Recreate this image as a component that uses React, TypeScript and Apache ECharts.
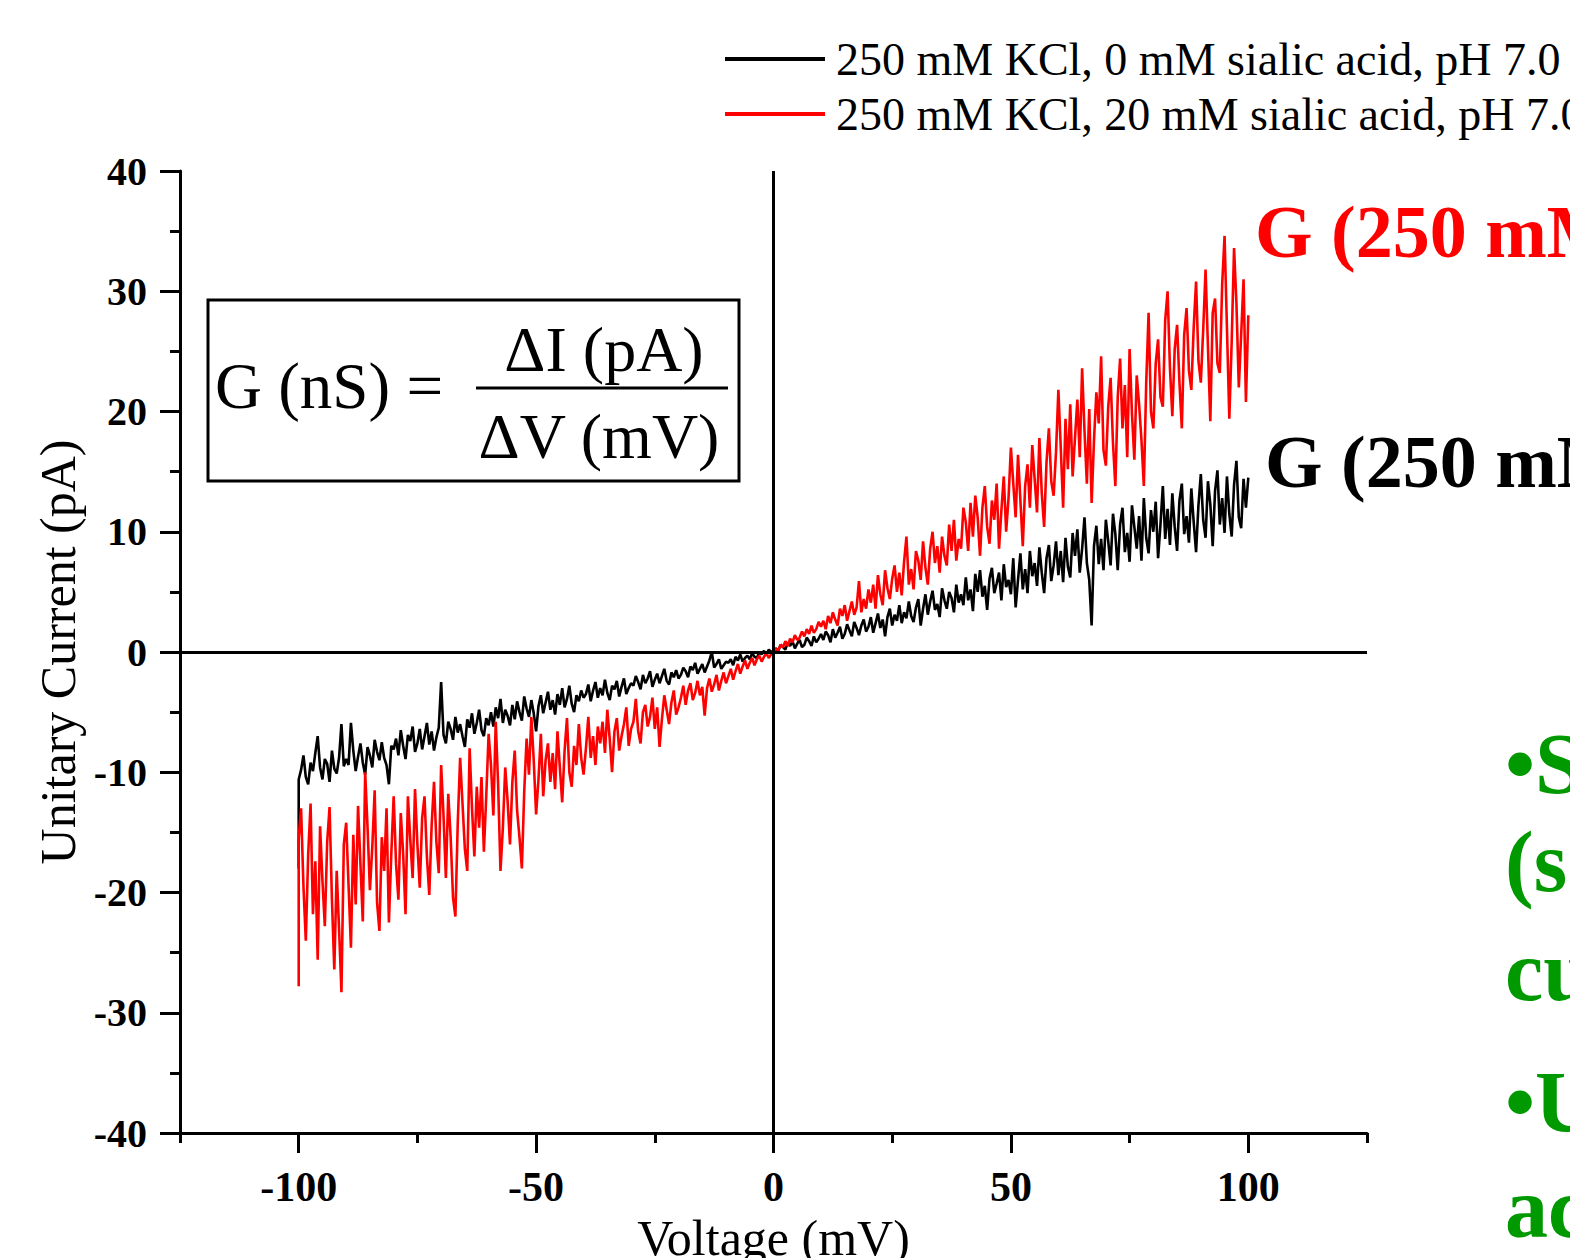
import React, { useEffect, useRef } from "react";
import * as echarts from "echarts";

const FONT = "'Liberation Serif', 'Times New Roman', serif";

const seriesNames = [
  "250 mM KCl, 0 mM sialic acid, pH 7.0",
  "250 mM KCl, 20 mM sialic acid, pH 7.0",
];

const xMajorTicks = [-100, -50, 0, 50, 100];
const xMinorTicks = [-125, -75, -25, 25, 75, 125];

const voltage = [
  -100, -100,
  -99.5, -99, -98.5, -98, -97.5, -97, -96.5, -96, -95.5, -95, -94.5, -94, -93.5, -93, -92.5, -92, -91.5, -91, -90.5, -90,
  -89.5, -89, -88.5, -88, -87.5, -87, -86.5, -86, -85.5, -85, -84.5, -84, -83.5, -83, -82.5, -82, -81.5, -81, -80.5, -80,
  -79.5, -79, -78.5, -78, -77.5, -77, -76.5, -76, -75.5, -75, -74.5, -74, -73.5, -73, -72.5, -72, -71.5, -71, -70.5, -70,
  -69.5, -69, -68.5, -68, -67.5, -67, -66.5, -66, -65.5, -65, -64.5, -64, -63.5, -63, -62.5, -62, -61.5, -61, -60.5, -60,
  -59.5, -59, -58.5, -58, -57.5, -57, -56.5, -56, -55.5, -55, -54.5, -54, -53.5, -53, -52.5, -52, -51.5, -51, -50.5, -50,
  -49.5, -49, -48.5, -48, -47.5, -47, -46.5, -46, -45.5, -45, -44.5, -44, -43.5, -43, -42.5, -42, -41.5, -41, -40.5, -40,
  -39.5, -39, -38.5, -38, -37.5, -37, -36.5, -36, -35.5, -35, -34.5, -34, -33.5, -33, -32.5, -32, -31.5, -31, -30.5, -30,
  -29.5, -29, -28.5, -28, -27.5, -27, -26.5, -26, -25.5, -25, -24.5, -24, -23.5, -23, -22.5, -22, -21.5, -21, -20.5, -20,
  -19.5, -19, -18.5, -18, -17.5, -17, -16.5, -16, -15.5, -15, -14.5, -14, -13.5, -13, -12.5, -12, -11.5, -11, -10.5, -10,
  -9.5, -9, -8.5, -8, -7.5, -7, -6.5, -6, -5.5, -5, -4.5, -4, -3.5, -3, -2.5, -2, -1.5, -1, -0.5, 0,
  0.5, 1, 1.5, 2, 2.5, 3, 3.5, 4, 4.5, 5, 5.5, 6, 6.5, 7, 7.5, 8, 8.5, 9, 9.5, 10,
  10.5, 11, 11.5, 12, 12.5, 13, 13.5, 14, 14.5, 15, 15.5, 16, 16.5, 17, 17.5, 18, 18.5, 19, 19.5, 20,
  20.5, 21, 21.5, 22, 22.5, 23, 23.5, 24, 24.5, 25, 25.5, 26, 26.5, 27, 27.5, 28, 28.5, 29, 29.5, 30,
  30.5, 31, 31.5, 32, 32.5, 33, 33.5, 34, 34.5, 35, 35.5, 36, 36.5, 37, 37.5, 38, 38.5, 39, 39.5, 40,
  40.5, 41, 41.5, 42, 42.5, 43, 43.5, 44, 44.5, 45, 45.5, 46, 46.5, 47, 47.5, 48, 48.5, 49, 49.5, 50,
  50.5, 51, 51.5, 52, 52.5, 53, 53.5, 54, 54.5, 55, 55.5, 56, 56.5, 57, 57.5, 58, 58.5, 59, 59.5, 60,
  60.5, 61, 61.5, 62, 62.5, 63, 63.5, 64, 64.5, 65, 65.5, 66, 66.5, 67, 67.5, 68, 68.5, 69, 69.5, 70,
  70.5, 71, 71.5, 72, 72.5, 73, 73.5, 74, 74.5, 75, 75.5, 76, 76.5, 77, 77.5, 78, 78.5, 79, 79.5, 80,
  80.5, 81, 81.5, 82, 82.5, 83, 83.5, 84, 84.5, 85, 85.5, 86, 86.5, 87, 87.5, 88, 88.5, 89, 89.5, 90,
  90.5, 91, 91.5, 92, 92.5, 93, 93.5, 94, 94.5, 95, 95.5, 96, 96.5, 97, 97.5, 98, 98.5, 99, 99.5, 100,
];

const currentNoSialic = [
  -18.0, -10.6,
  -9.8, -8.6, -10.4, -11.0, -9.2, -9.9, -8.4, -7.0, -9.6, -10.6, -8.9, -9.3, -10.8, -8.2, -9.7, -10.1, -8.8, -6.0, -9.5, -8.9,
  -9.4, -5.9, -8.2, -9.9, -8.7, -7.6, -9.2, -10.2, -7.9, -8.6, -9.6, -7.3, -8.3, -9.0, -7.5, -8.8, -9.4, -11.0, -7.8, -8.1,
  -7.2, -8.6, -6.5, -7.8, -8.9, -6.9, -7.4, -6.2, -8.3, -7.6, -6.4, -8.1, -7.0, -5.9, -7.7, -6.6, -8.2, -7.1, -6.3, -2.5,
  -6.9, -7.6, -5.8, -6.4, -7.3, -5.4, -6.7, -6.0, -7.0, -7.9, -5.6, -6.3, -5.1, -6.8, -5.9, -4.8, -6.5, -7.0, -5.5, -6.1,
  -5.0, -6.2, -4.6, -5.5, -3.9, -5.9, -4.8, -5.3, -6.1, -4.4, -5.6, -4.1, -5.0, -5.7, -3.7, -4.7, -5.4, -4.0, -5.1, -6.6,
  -4.5, -3.6, -5.1, -4.2, -3.3, -4.8, -4.0, -5.2, -3.5, -4.4, -3.0, -4.6, -3.9, -2.8, -4.3, -5.0, -3.6, -4.1, -3.2, -3.8,
  -3.5, -2.7, -4.1, -3.2, -2.5, -3.8, -3.0, -3.6, -2.3, -3.4, -4.0, -2.8, -3.1, -2.4, -3.7, -2.9, -2.2, -3.5, -3.0, -2.6,
  -2.8, -2.0, -2.5, -3.1, -1.9, -2.6, -2.2, -1.6, -2.9, -2.3, -1.8, -2.6, -2.0, -1.4, -2.4, -2.7, -1.7, -2.1, -1.5, -2.2,
  -1.9, -1.3, -1.6, -2.1, -1.2, -1.5, -0.9, -1.8, -1.4, -1.0, -1.7, -1.2, -0.7, 0.0, -1.3, -1.0, -0.6, -1.4, -1.1, -0.8,
  -0.9, -0.6, -1.1, -0.4, -0.7, -0.2, -0.8, -0.5, -0.3, -0.6, -0.1, -0.4, -0.5, 0.0, -0.2, 0.1, -0.3, 0.2, 0.0, 0.1,
  0.3, 0.1, 0.6, 0.4, 0.2, 0.8, 0.5, 0.9, 0.3, 0.7, 1.0, 0.4, 0.6, 1.2, 0.9, 0.5, 1.3, 0.8, 1.1, 1.5,
  1.0, 1.7, 1.4, 0.8, 1.9, 1.2, 1.6, 2.1, 1.1, 1.5, 2.3, 1.8, 1.3, 2.5, 2.0, 1.4, 2.2, 2.7, 1.7, 2.1,
  2.9, 1.6, 2.4, 3.2, 2.0, 2.7, 1.3, 2.9, 3.6, 2.2, 3.1, 2.6, 3.9, 2.4, 3.3, 2.8, 4.2, 3.0, 2.5, 3.7,
  4.4, 2.2, 3.6, 4.8, 3.1, 4.2, 5.1, 3.5, 4.0, 2.9, 5.3, 4.3, 3.6, 5.0, 4.5, 3.3, 5.6, 4.1, 4.8, 3.9,
  6.2, 4.3, 5.2, 3.4, 6.5, 5.0, 6.8, 4.6, 5.5, 3.5, 6.1, 7.0, 4.9, 5.7, 6.6, 4.3, 7.3, 5.4, 6.0, 4.8,
  7.8, 3.7, 6.0, 8.2, 5.2, 6.9, 4.9, 8.4, 6.3, 7.4, 5.5, 8.7, 6.6, 4.9, 7.8, 8.9, 5.9, 7.2, 9.2, 6.4,
  8.4, 5.8, 9.5, 7.1, 6.2, 9.9, 8.0, 10.2, 6.6, 8.6, 11.2, 7.4, 6.0, 2.2, 8.8, 10.5, 7.3, 9.4, 6.8, 11.0,
  9.2, 7.2, 11.5, 9.8, 6.8, 10.6, 12.0, 8.3, 9.9, 7.5, 12.2, 10.4, 8.6, 11.3, 7.6, 12.8, 9.5, 8.2, 11.8, 10.0,
  12.5, 7.8, 10.6, 13.8, 9.4, 11.9, 8.9, 13.2, 10.4, 8.4, 12.6, 14.0, 9.8, 11.3, 9.1, 13.6, 10.8, 8.3, 12.2, 14.8,
  11.0, 9.5, 14.2, 12.3, 8.8, 13.4, 15.1, 10.6, 12.8, 9.9, 14.6, 11.5, 9.6, 13.9, 15.9, 11.2, 10.3, 14.4, 12.0, 14.5,
];

const currentSialic = [
  -27.8, -15.5,
  -13.0, -19.5, -24.0, -16.8, -12.6, -21.8, -17.4, -25.6, -14.5, -19.0, -22.8, -15.8, -12.9, -20.6, -26.4, -18.2, -23.0, -28.3, -16.0, -14.2,
  -19.4, -24.6, -15.2, -21.0, -12.8, -17.6, -22.4, -10.0, -14.6, -19.8, -16.2, -11.5, -20.8, -23.2, -15.4, -18.2, -13.0, -22.5, -16.8, -12.0,
  -17.6, -20.6, -13.4, -16.8, -21.8, -12.0, -15.6, -18.8, -11.4, -16.0, -19.6, -13.8, -12.0, -17.0, -20.2, -14.4, -10.8, -15.8, -18.4, -9.4,
  -13.6, -18.8, -11.8, -15.4, -20.4, -22.0, -14.2, -8.8, -12.6, -16.4, -18.2, -8.0, -13.0, -17.0, -11.2, -14.6, -10.4, -16.6, -12.0, -6.8,
  -9.4, -13.6, -5.8, -11.0, -18.2, -14.6, -9.6, -12.4, -16.0, -10.8, -8.2, -13.2, -15.4, -18.0, -11.6, -7.2, -10.2, -5.4, -9.0, -13.5,
  -10.6, -6.8, -12.0, -9.0, -7.6, -10.8, -8.4, -11.4, -6.6, -9.6, -12.5, -8.2, -5.5, -10.0, -11.2, -7.8, -9.4, -6.0, -8.8, -10.2,
  -8.0, -5.4, -8.8, -7.0, -9.4, -6.2, -7.6, -5.8, -8.4, -4.8, -7.2, -10.0, -6.6, -5.5, -8.2, -7.0, -6.0, -4.6, -7.8, -6.4,
  -5.8, -3.9, -6.6, -7.6, -5.0, -4.4, -6.2, -5.4, -3.8, -6.4, -4.6, -7.9, -5.6, -3.6, -4.8, -6.0, -4.2, -3.2, -5.2, -4.6,
  -3.8, -2.8, -4.4, -3.2, -2.6, -4.0, -3.4, -2.4, -3.6, -2.9, -5.3, -3.0, -2.2, -3.3, -2.7, -1.9, -3.2, -2.4, -1.7, -2.6,
  -2.0, -1.4, -2.3, -1.6, -1.0, -1.8, -1.2, -0.7, -1.4, -0.9, -0.5, -1.1, -0.6, -0.3, -0.8, -0.4, -0.1, -0.5, -0.2, 0.0,
  0.3, 0.1, 0.6, 0.4, 0.9, 0.5, 1.1, 0.8, 1.4, 1.0, 1.2, 1.7, 1.3, 1.9, 1.5, 2.2, 1.6, 1.9, 2.5, 2.1,
  2.6, 1.9, 3.0, 2.4, 3.3, 2.7, 2.2, 3.6, 3.0, 3.9, 2.6, 3.4, 4.2, 3.1, 3.7, 5.9, 3.3, 4.4, 3.6, 5.2,
  4.1, 5.6, 3.6, 6.4, 4.8, 3.9, 6.8, 5.3, 4.4, 6.1, 7.2, 5.0, 6.6, 4.7, 7.5, 9.6, 5.6, 6.9, 5.2, 8.4,
  7.6, 6.0, 9.2, 7.0, 5.6, 8.6, 10.0, 7.4, 8.8, 6.6, 9.6, 8.0, 7.2, 10.6, 8.4, 11.0, 7.6, 9.4, 8.6, 12.0,
  10.8, 8.4, 12.4, 9.6, 13.0, 11.2, 8.0, 12.0, 13.8, 10.4, 9.0, 12.6, 11.0, 14.0, 8.6, 11.8, 14.6, 10.0, 12.8, 17.0,
  14.0, 11.2, 16.4, 12.6, 8.8, 13.8, 15.6, 12.0, 17.2, 14.4, 11.6, 17.8, 13.2, 10.4, 15.8, 18.6, 14.2, 13.0, 16.6, 21.8,
  17.0, 12.0, 19.4, 15.2, 20.6, 14.6, 17.8, 21.0, 16.2, 23.6, 18.4, 14.0, 20.2, 12.4, 17.6, 21.6, 19.0, 24.6, 16.8, 15.5,
  20.4, 22.8, 17.4, 13.8, 21.2, 24.4, 18.6, 22.2, 16.2, 25.2, 19.8, 16.0, 23.0, 20.6, 17.6, 13.8, 22.4, 28.2, 20.0, 18.6,
  24.0, 26.0, 21.2, 20.4, 27.6, 30.0, 23.6, 19.6, 25.2, 27.2, 22.4, 18.6, 26.4, 28.6, 23.4, 21.8, 27.0, 30.8, 24.2, 22.4,
  26.8, 31.8, 25.4, 19.2, 28.2, 29.4, 24.0, 23.2, 30.6, 34.6, 27.0, 19.4, 25.8, 33.6, 29.0, 22.0, 26.4, 31.0, 20.8, 28.0,
];

const formulaLeft = "G (nS) =";
const formulaNumerator = "\u0394I (pA)";
const formulaDenominator = "\u0394V (mV)";
const conductanceLabels = ["G (250 mM", "G (250 mM"];
const greenLines = ["\u2022S", "(sc", "cu", "\u2022U", "ac"];

export default function App() {
  const ref = useRef<HTMLDivElement>(null);

  useEffect(() => {
    document.body.style.margin = "0";
    document.body.style.overflow = "hidden";
    const chart = echarts.init(ref.current as HTMLDivElement, null, { renderer: "svg" });

    const n = Math.min(voltage.length, currentNoSialic.length, currentSialic.length);
    const blackData: number[][] = [];
    const redData: number[][] = [];
    for (let i = 0; i < n; i++) {
      blackData.push([voltage[i], currentNoSialic[i]]);
      redData.push([voltage[i], currentSialic[i]]);
    }

    const tickLine = { color: "#000", width: 3 };
    const greenY = [764, 862, 971, 1102, 1208];

    const txt = (text: string, x: number, y: number, size: number, opts: any = {}) => ({
      type: "text",
      x,
      y,
      z: 10,
      style: {
        text,
        fontSize: size,
        fontFamily: FONT,
        fontWeight: opts.weight || "normal",
        fill: opts.color || "#000",
        align: opts.align || "left",
        verticalAlign: "middle",
        textAlign: opts.align || "left",
        textVerticalAlign: "middle",
      },
    });

    chart.setOption({
      animation: false,
      backgroundColor: "#fff",
      grid: {
        left: 180,
        right: 203,
        top: 171,
        bottom: 125,
        containLabel: false,
        outerBoundsMode: "none",
      },
      legend: {
        show: true,
        orient: "vertical",
        left: 720,
        top: 31,
        itemWidth: 100,
        itemHeight: 4,
        itemGap: 9,
        icon: "rect",
        data: seriesNames,
        textStyle: {
          fontFamily: FONT,
          fontSize: 46,
          color: "#000",
          padding: [0, 0, 0, 6],
        },
      },
      xAxis: [
        {
          type: "value",
          min: -125,
          max: 125,
          position: "bottom",
          axisLine: { show: true, onZero: false, lineStyle: tickLine },
          axisTick: { show: true, customValues: xMajorTicks, length: 20, inside: false, lineStyle: tickLine },
          axisLabel: {
            customValues: xMajorTicks,
            fontFamily: FONT,
            fontWeight: "bold",
            fontSize: 42,
            color: "#000",
            margin: 33,
          },
          splitLine: { show: false },
          name: "Voltage (mV)",
          nameLocation: "middle",
          nameGap: 80,
          nameTextStyle: { fontFamily: FONT, fontSize: 50, color: "#000" },
        },
        {
          type: "value",
          min: -125,
          max: 125,
          position: "bottom",
          axisLine: { show: false, onZero: false },
          axisTick: { show: true, customValues: xMinorTicks, length: 10, lineStyle: tickLine },
          axisLabel: { show: false },
          splitLine: { show: false },
        },
      ],
      yAxis: {
        type: "value",
        min: -40,
        max: 40,
        interval: 10,
        axisLine: { show: true, onZero: false, lineStyle: tickLine },
        axisTick: { show: true, length: 20, lineStyle: tickLine },
        minorTick: { show: true, splitNumber: 2, length: 10, lineStyle: tickLine },
        minorSplitLine: { show: false },
        splitLine: { show: false },
        axisLabel: {
          fontFamily: FONT,
          fontWeight: "bold",
          fontSize: 40,
          color: "#000",
          margin: 33,
        },
        name: "Unitary Current (pA)",
        nameLocation: "middle",
        nameGap: 97,
        nameTextStyle: { fontFamily: FONT, fontSize: 50, color: "#000" },
      },
      series: [
        {
          type: "line",
          name: seriesNames[0],
          data: blackData,
          showSymbol: false,
          symbol: "none",
          color: "#000",
          lineStyle: { color: "#000", width: 2.6 },
          z: 3,
          markLine: {
            silent: true,
            symbol: "none",
            label: { show: false },
            lineStyle: { color: "#000", width: 3, type: "solid" },
            data: [{ xAxis: 0 }, { yAxis: 0 }],
          },
        },
        {
          type: "line",
          name: seriesNames[1],
          data: redData,
          showSymbol: false,
          symbol: "none",
          color: "#ff0000",
          lineStyle: { color: "#ff0000", width: 2.6 },
          z: 4,
        },
      ],
      graphic: [
        {
          type: "rect",
          shape: { x: 208, y: 300, width: 531, height: 181 },
          style: { fill: "none", stroke: "#000", lineWidth: 3 },
          z: 10,
        },
        {
          type: "line",
          shape: { x1: 476, y1: 388, x2: 728, y2: 388 },
          style: { stroke: "#000", lineWidth: 3 },
          z: 10,
        },
        txt(formulaLeft, 215, 386, 65),
        txt(formulaNumerator, 604, 349, 64, { align: "center" }),
        txt(formulaDenominator, 599, 436, 64, { align: "center" }),
        txt(conductanceLabels[0], 1255, 232, 74, { weight: "bold", color: "#ff0000" }),
        txt(conductanceLabels[1], 1265, 462, 74, { weight: "bold", color: "#000" }),
        ...greenLines.map((t, i) => txt(t, 1505, greenY[i], 86, { weight: "bold", color: "#009a00" })),
      ],
    });

    return () => chart.dispose();
  }, []);

  return <div ref={ref} style={{ width: 1570, height: 1258, background: "#fff" }} />;
}
